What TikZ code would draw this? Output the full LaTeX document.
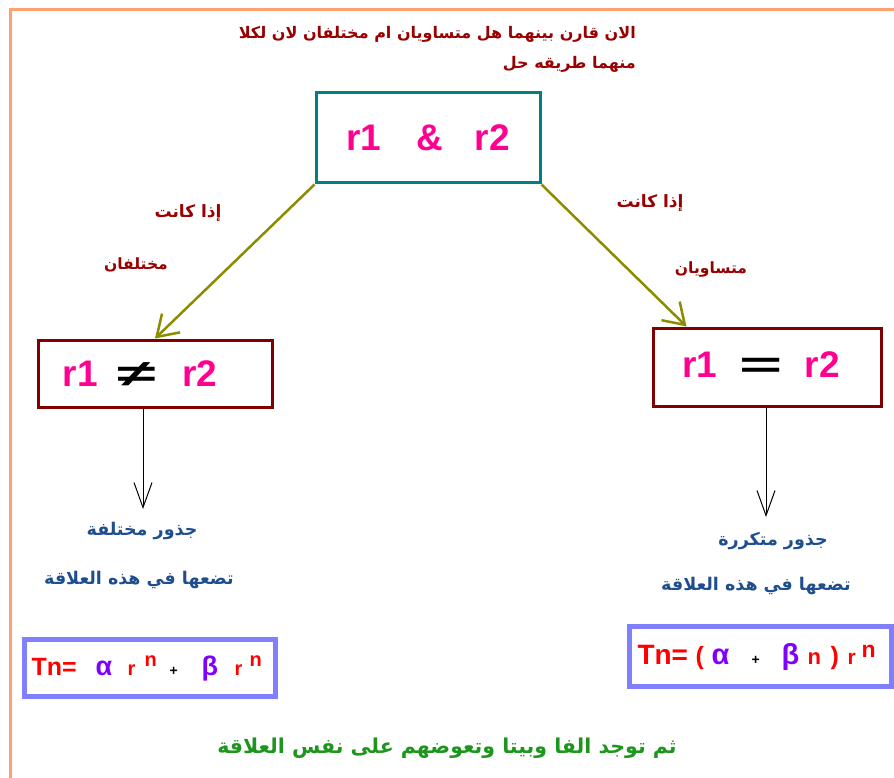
\documentclass[tikz,border=0pt]{standalone}
\usepackage{fontspec}
\setmainfont{Liberation Sans}
\newfontfamily\arabicfont[Script=Arabic]{DejaVu Sans}
\TeXXeTstate=1
\usetikzlibrary{arrows.meta,calc}
\definecolor{frameor}{HTML}{FFA070}
\definecolor{tealb}{HTML}{008080}
\definecolor{maroonb}{HTML}{800000}
\definecolor{olivea}{HTML}{8C8C00}
\definecolor{pinkr}{HTML}{FF0090}
\definecolor{darkredt}{HTML}{990000}
\definecolor{bluet}{HTML}{1F4E8C}
\definecolor{violetb}{HTML}{8080FF}
\definecolor{purpleg}{HTML}{8000FF}
\definecolor{greent}{HTML}{1E961E}
\newcommand{\fs}[1]{\fontsize{#1}{#1}\selectfont}
\newcommand{\putat}[2]{\makebox[0pt][l]{\hspace*{#1pt}#2}}
\tikzset{
  rbox/.style={draw=#1, line width=3pt, inner sep=0pt, font=\bfseries\fs{37}, text=pinkr},
  fbox/.style={draw=violetb, line width=5pt, inner sep=0pt, align=left, font=\bfseries\fs{25}},
  artext/.style={font=\arabicfont\bfseries\fs{#1}, inner sep=0pt},
  oarrow/.style={draw=olivea, line width=2.5pt, -{Straight Barb[length=20pt,width=26pt]}},
  barrow/.style={draw=black, line width=1pt, -{Straight Barb[length=25pt,width=18pt]}}
}
\begin{document}
\begin{tikzpicture}[x=1pt,y=-1pt]
\useasboundingbox (0,0) rectangle (894,778);
\draw[frameor, line width=3pt] (10,778) -- (10,10) -- (894,10);

% boxes
\node[rbox=tealb, minimum width=224pt, minimum height=90pt] (top) at (428,138)
  {r1\hspace{35pt}\&\hspace{32pt}r2};
\node[rbox=maroonb, minimum width=234pt, minimum height=67pt] (left) at (155,373.5)
  {r1\hspace{20pt}{\color{black}\scalebox{1.9}[1]{≠}}\hspace{26pt}r2\hspace{30pt}\mbox{}};
\node[rbox=maroonb, minimum width=228pt, minimum height=78pt] (right) at (767,367)
  {\raisebox{4pt}{r1\hspace{22pt}{\color{black}\scalebox{2}[1]{=}}\hspace{22pt}r2}\hspace{12pt}\mbox{}};

% arrows between boxes
\draw[oarrow] (top.south west) -- (left.north);
\coordinate (rin) at ($(right.north west)+(35,0)$);
\draw[oarrow] (top.south east) -- (rin);

\coordinate (lout) at ($(left.south)+(-12,0)$);
\coordinate (lend) at (143,509);
\draw[barrow] (lout) -- (lend);
\coordinate (rout) at ($(right.south)+(-1,0)$);
\coordinate (rend) at (766,517);
\draw[barrow] (rout) -- (rend);

% arabic labels
\node[artext=16, text=darkredt, anchor=north east, align=right] (q) at (636,26)
  {\beginR الان قارن بينهما هل متساويان ام مختلفان لان لكلا\endR\\[13pt]\beginR منهما طريقه حل\endR};
\node[artext=17, text=darkredt] (ifl) at (188,213) {\beginR إذا كانت\endR};
\node[artext=15.5, text=darkredt] (diff) at (136,265) {\beginR مختلفان\endR};
\node[artext=17, text=darkredt] (ifr) at (650,203) {\beginR إذا كانت\endR};
\node[artext=15.5, text=darkredt] (eq) at (711,270) {\beginR متساويان\endR};

\node[artext=17.5, text=bluet] (lr1) at (142,531) {\beginR جذور مختلفة\endR};
\node[artext=17.5, text=bluet] (lr2) at (139,580) {\beginR تضعها في هذه العلاقة\endR};
\node[artext=17.5, text=bluet] (rr1) at (773,541) {\beginR جذور متكررة\endR};
\node[artext=17.5, text=bluet] (rr2) at (756,586) {\beginR تضعها في هذه العلاقة\endR};

\node[artext=20.5, text=greent] (fin) at (447,748) {\beginR ثم توجد الفا وبيتا وتعوضهم على نفس العلاقة\endR};

% formula boxes
\node[fbox, minimum width=251pt, minimum height=57pt, text width=251pt] (fl) at (150,668)
  {\putat{7}{\color{red}Tn=}%
   \putat{71}{\color{purpleg}\fs{27}α}%
   \putat{103}{\color{red}\fs{20}r}%
   \putat{120}{\raisebox{9pt}{\color{red}\fs{20}n}}%
   \putat{145}{\fs{14}+}%
   \putat{177}{\color{purpleg}\fs{27}β}%
   \putat{210}{\color{red}\fs{20}r}%
   \putat{225}{\raisebox{9pt}{\color{red}\fs{20}n}}};
\node[fbox, minimum width=262pt, minimum height=60pt, text width=262pt] (fr) at (760.5,656.5)
  {\putat{8}{\color{red}\fs{28}Tn=}%
   \putat{66}{\color{red}\fs{25}(}%
   \putat{82}{\color{purpleg}\fs{29}α}%
   \putat{122}{\fs{14}+}%
   \putat{152}{\color{purpleg}\fs{29}β}%
   \putat{178}{\color{red}\fs{22}n}%
   \putat{201}{\color{red}\fs{25})}%
   \putat{218}{\color{red}\fs{21}r}%
   \putat{232}{\raisebox{7pt}{\color{red}\fs{23}n}}};
\end{tikzpicture}
\end{document}
